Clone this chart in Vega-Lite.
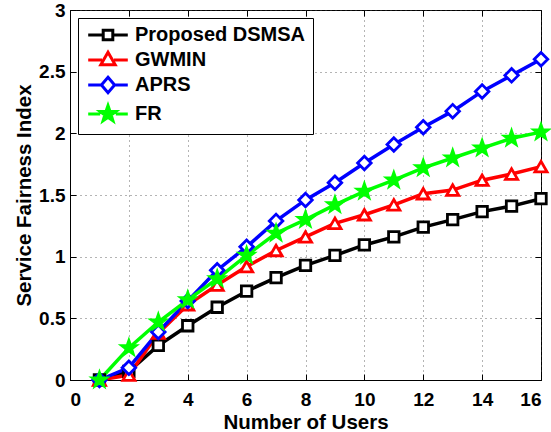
{
  "$schema": "https://vega.github.io/schema/vega-lite/v6.json",
  "width": 471,
  "height": 370,
  "autosize": {"type": "none"},
  "padding": {"left": 70, "top": 10, "right": 10, "bottom": 52},
  "background": "white",
  "config": {
    "font": "Liberation Sans",
    "view": {"stroke": "black", "strokeWidth": 1},
    "axis": {
      "labelFont": "Liberation Sans", "labelFontSize": 19, "labelFontWeight": "bold", "labelColor": "black",
      "titleFont": "Liberation Sans", "titleFontSize": 20.5, "titleFontWeight": "bold", "titleColor": "black",
      "domainColor": "black", "tickColor": "black", "tickSize": -6, "labelPadding": 16,
      "gridColor": "#444", "gridDash": [1, 4], "gridOpacity": 0.8, "gridWidth": 1
    },
    "legend": {
      "title": null, "orient": "none", "legendX": 8, "legendY": 8,
      "fillColor": "white", "strokeColor": "black", "padding": 7,
      "labelFontSize": 20, "labelFontWeight": "bold", "labelFont": "Liberation Sans", "labelColor": "black", "labelLimit": 400,
      "symbolSize": 144, "symbolOffset": 13, "labelOffset": 17, "rowPadding": 0, "symbolStrokeWidth": 3
    }
  },
  "data": {"values": [
    {"n":1,"s":"Proposed DSMSA","v":0},{"n":2,"s":"Proposed DSMSA","v":0.07},{"n":3,"s":"Proposed DSMSA","v":0.28},{"n":4,"s":"Proposed DSMSA","v":0.44},
    {"n":5,"s":"Proposed DSMSA","v":0.59},{"n":6,"s":"Proposed DSMSA","v":0.72},{"n":7,"s":"Proposed DSMSA","v":0.83},{"n":8,"s":"Proposed DSMSA","v":0.93},
    {"n":9,"s":"Proposed DSMSA","v":1.01},{"n":10,"s":"Proposed DSMSA","v":1.095},{"n":11,"s":"Proposed DSMSA","v":1.16},{"n":12,"s":"Proposed DSMSA","v":1.24},
    {"n":13,"s":"Proposed DSMSA","v":1.30},{"n":14,"s":"Proposed DSMSA","v":1.365},{"n":15,"s":"Proposed DSMSA","v":1.41},{"n":16,"s":"Proposed DSMSA","v":1.47},
    {"n":1,"s":"GWMIN","v":0},{"n":2,"s":"GWMIN","v":0.04},{"n":3,"s":"GWMIN","v":0.38},{"n":4,"s":"GWMIN","v":0.61},
    {"n":5,"s":"GWMIN","v":0.77},{"n":6,"s":"GWMIN","v":0.92},{"n":7,"s":"GWMIN","v":1.05},{"n":8,"s":"GWMIN","v":1.16},
    {"n":9,"s":"GWMIN","v":1.27},{"n":10,"s":"GWMIN","v":1.34},{"n":11,"s":"GWMIN","v":1.42},{"n":12,"s":"GWMIN","v":1.51},
    {"n":13,"s":"GWMIN","v":1.54},{"n":14,"s":"GWMIN","v":1.62},{"n":15,"s":"GWMIN","v":1.67},{"n":16,"s":"GWMIN","v":1.73},
    {"n":1,"s":"APRS","v":0},{"n":2,"s":"APRS","v":0.10},{"n":3,"s":"APRS","v":0.39},{"n":4,"s":"APRS","v":0.64},
    {"n":5,"s":"APRS","v":0.89},{"n":6,"s":"APRS","v":1.08},{"n":7,"s":"APRS","v":1.29},{"n":8,"s":"APRS","v":1.46},
    {"n":9,"s":"APRS","v":1.60},{"n":10,"s":"APRS","v":1.76},{"n":11,"s":"APRS","v":1.91},{"n":12,"s":"APRS","v":2.05},
    {"n":13,"s":"APRS","v":2.18},{"n":14,"s":"APRS","v":2.34},{"n":15,"s":"APRS","v":2.47},{"n":16,"s":"APRS","v":2.60},
    {"n":1,"s":"FR","v":0},{"n":2,"s":"FR","v":0.26},{"n":3,"s":"FR","v":0.47},{"n":4,"s":"FR","v":0.65},
    {"n":5,"s":"FR","v":0.82},{"n":6,"s":"FR","v":1.01},{"n":7,"s":"FR","v":1.19},{"n":8,"s":"FR","v":1.30},
    {"n":9,"s":"FR","v":1.42},{"n":10,"s":"FR","v":1.53},{"n":11,"s":"FR","v":1.62},{"n":12,"s":"FR","v":1.72},
    {"n":13,"s":"FR","v":1.80},{"n":14,"s":"FR","v":1.88},{"n":15,"s":"FR","v":1.96},{"n":16,"s":"FR","v":2.01}
  ]},
  "resolve": {
    "axis": {"x": "independent", "y": "independent"},
    "scale": {"stroke": "independent", "fill": "independent", "shape": "independent", "size": "independent"},
    "legend": {"stroke": "independent", "fill": "independent", "shape": "independent", "size": "independent"}
  },
  "layer": [
    {
      "mark": {"type": "line", "strokeWidth": 3.5},
      "encoding": {
        "x": {"field": "n", "type": "quantitative", "scale": {"domain": [0, 16], "nice": false},
              "axis": {"title": "Number of Users", "values": [0,2,4,6,8,10,12,14,16], "grid": true, "titlePadding": 3}},
        "y": {"field": "v", "type": "quantitative", "scale": {"domain": [0, 3], "nice": false},
              "axis": {"title": "Service Fairness Index", "values": [0,0.5,1,1.5,2,2.5,3], "format": "~g", "grid": true, "titlePadding": 4, "labelPadding": 11}},
        "stroke": {"field": "s", "type": "nominal",
                   "scale": {"domain": ["Proposed DSMSA","GWMIN","APRS","FR"], "range": ["#000000","#ff0000","#0000ff","#00ff00"]},
                   "legend": null},
        "detail": {"field": "s"}
      }
    },
    {
      "mark": {"type": "point", "strokeWidth": 2.8, "opacity": 1},
      "encoding": {
        "x": {"field": "n", "type": "quantitative", "axis": null},
        "y": {"field": "v", "type": "quantitative", "axis": null},
        "stroke": {"field": "s", "type": "nominal",
                   "scale": {"domain": ["Proposed DSMSA","GWMIN","APRS","FR"], "range": ["#000000","#ff0000","#0000ff","#00ff00"]},
                   "legend": null},
        "fill": {"field": "s", "type": "nominal",
                 "scale": {"domain": ["Proposed DSMSA","GWMIN","APRS","FR"], "range": ["white","white","white","#00ff00"]},
                 "legend": null},
        "shape": {"field": "s", "type": "nominal",
                  "scale": {"domain": ["Proposed DSMSA","GWMIN","APRS","FR"],
                            "range": ["square","triangle-up","diamond","M0,-1L0.235,-0.324L0.951,-0.309L0.380,0.124L0.588,0.809L0,0.4L-0.588,0.809L-0.380,0.124L-0.951,-0.309L-0.235,-0.324Z"]},
                  "legend": null},
        "size": {"field": "s", "type": "nominal",
                 "scale": {"domain": ["Proposed DSMSA","GWMIN","APRS","FR"], "range": [110, 220, 200, 420]},
                 "legend": null}
      }
    },
    {
      "transform": [{"filter": "datum.n > 100"}],
      "mark": {"type": "point", "filled": true, "size": 144, "strokeWidth": 3, "opacity": 1},
      "encoding": {
        "x": {"field": "n", "type": "quantitative", "axis": null},
        "y": {"field": "v", "type": "quantitative", "axis": null},
        "stroke": {"field": "s", "type": "nominal",
                   "scale": {"domain": ["Proposed DSMSA","GWMIN","APRS","FR"], "range": ["#000000","#ff0000","#0000ff","#00ff00"]},
                   "legend": {}},
        "fill": {"field": "s", "type": "nominal",
                 "scale": {"domain": ["Proposed DSMSA","GWMIN","APRS","FR"], "range": ["white","white","white","#00ff00"]},
                 "legend": {}},
        "shape": {"field": "s", "type": "nominal",
                  "scale": {"domain": ["Proposed DSMSA","GWMIN","APRS","FR"],
                            "range": ["M-3.3,0H-0.8M0.8,0H3.3M-0.8,-0.8H0.8V0.8H-0.8Z",
                                      "M-3.3,0H-1M1,0H3.3M0,-1.3L1.2,0.8H-1.2Z",
                                      "M-3.3,0H-1.1M1.1,0H3.3M0,-1.3L1.1,0L0,1.3L-1.1,0Z",
                                      "M-3.3,0H-1.3M1.3,0H3.3M0,-1.4L0.329,-0.454L1.331,-0.433L0.532,0.174L0.823,1.133L0,0.56L-0.823,1.133L-0.532,0.174L-1.331,-0.433L-0.329,-0.454Z"]},
                  "legend": {}}
      }
    },
    {
      "mark": {"type": "point", "opacity": 0},
      "encoding": {
        "x": {"field": "n", "type": "quantitative",
              "axis": {"orient": "top", "labels": false, "title": null, "grid": false, "domain": false, "values": [0,2,4,6,8,10,12,14,16]}},
        "y": {"field": "v", "type": "quantitative",
              "axis": {"orient": "right", "labels": false, "title": null, "grid": false, "domain": false, "values": [0,0.5,1,1.5,2,2.5,3]}}
      }
    }
  ]
}
